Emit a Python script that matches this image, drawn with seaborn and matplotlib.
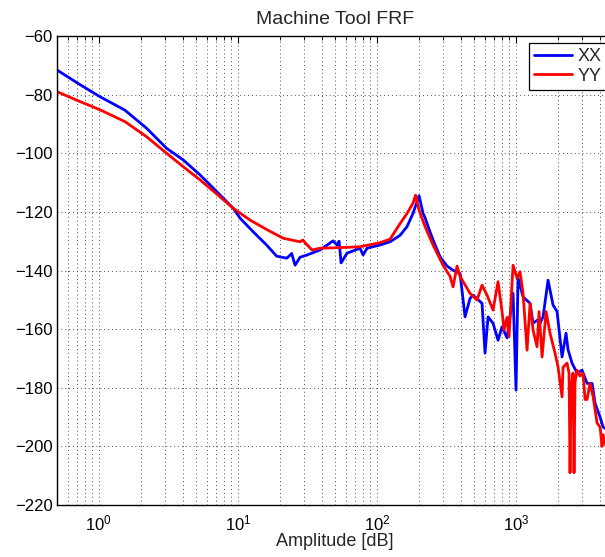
import numpy as np
import pandas as pd
import matplotlib
matplotlib.use("Agg")
import matplotlib.pyplot as plt
import seaborn as sns
from matplotlib.ticker import LogLocator, NullFormatter

# ---- data ----
xx_freq = [0.50, 0.71, 1.00, 1.54, 2.21, 3.07, 4.05, 5.35, 7.05, 9.28, 10.4, 12.9, 16.1, 19.0,
           22.5, 24.4, 25.8, 28.0, 31.5, 39.0, 48.4, 51.7, 53.5, 55.3, 61.0, 75.7, 79.6, 85.0,
           105.4, 124.5, 146.9, 165.0, 182.1, 201.2, 215.0, 222.3, 229.7, 253.7, 284.9,
           319.9, 353.4, 396.8, 431.1, 468.3, 492.2, 571.2, 600.3, 631.0, 685.5, 744.7,
           795.6, 864.5, 954.8, 1003, 1037, 1127, 1266, 1330, 1421, 1493, 1570, 1705, 1852,
           1979, 2150, 2297, 2374, 2537, 2756, 2994, 3253, 3534, 3714, 4036, 4241, 4457]
xx_db = [-71.6, -76.2, -80.5, -85.3, -91.5, -98.3, -102.3, -107.4, -113.1, -118.8, -122.2,
         -126.8, -131.3, -135.1, -135.8, -134.2, -138.2, -135.5, -134.7, -133.0, -129.9,
         -131.3, -130.0, -137.4, -134.1, -132.4, -134.7, -132.4, -131.3, -130.2, -128.0,
         -125.0, -120.5, -114.5, -120.5, -122.0, -124.0, -129.6, -135.3, -138.5, -139.9,
         -141.0, -155.8, -149.5, -148.4, -151.2, -168.2, -155.8, -158.0, -163.8, -159.2,
         -163.0, -147.8, -180.8, -142.6, -149.0, -151.2, -158.0, -157.0, -158.0, -155.8,
         -143.3, -151.8, -154.0, -169.5, -161.4, -167.0, -171.6, -175.0, -174.0, -178.5,
         -178.5, -185.3, -190.0, -193.4, -194.0]

yy_freq = [0.50, 0.71, 1.00, 1.54, 2.21, 3.07, 4.05, 5.35, 7.05, 9.28, 12.24, 16.1, 21.2,
           28.0, 29.4, 30.4, 34.2, 39.0, 53.5, 75.7, 105.4, 124.5, 146.9, 165.0, 182.1,
           190.0, 201.2, 222.3, 253.7, 299.5, 336.2, 353.4, 377.6, 396.8, 468.3, 526.0,
           571.2, 620.5, 685.5, 744.7, 795.6, 822.5, 864.5, 893.6, 954.8, 1020, 1072, 1127,
           1204, 1266, 1330, 1421, 1469, 1544, 1650, 1762, 1914, 2012, 2150, 2186, 2335,
           2414, 2454, 2495, 2579, 2622, 2666, 2756, 2896, 3044, 3148, 3253, 3419, 3594,
           3839, 4036, 4171, 4241, 4457]
yy_db = [-79.0, -82.1, -85.0, -89.2, -94.4, -100.0, -104.6, -109.1, -113.9, -118.8, -122.8,
         -126.0, -129.0, -130.2, -129.6, -130.5, -133.0, -132.4, -132.2, -131.9, -130.5,
         -129.3, -124.0, -120.5, -117.0, -114.3, -119.4, -125.0, -131.3, -138.2, -142.0,
         -145.6, -138.5, -142.0, -147.8, -150.1, -145.0, -148.4, -153.5, -143.8, -154.0,
         -160.3, -156.0, -162.6, -138.2, -142.6, -140.4, -147.8, -167.2, -151.2, -160.3,
         -166.0, -154.0, -169.5, -154.0, -161.4, -168.2, -172.9, -183.1, -173.0, -171.6,
         -175.0, -209.0, -180.0, -175.0, -209.0, -178.0, -174.0, -176.0, -175.0, -184.0,
         -184.0, -178.5, -183.0, -192.0, -193.4, -200.0, -196.0, -200.0]

series_names = ["XX", "YY"]
series_colors = ["#0000ff", "#ff0000"]
y_ticks = [-220, -200, -180, -160, -140, -120, -100, -80, -60]

df = pd.concat([
    pd.DataFrame({"freq": xx_freq, "db": xx_db, "series": series_names[0]}),
    pd.DataFrame({"freq": yy_freq, "db": yy_db, "series": series_names[1]}),
], ignore_index=True)

sns.set_style("white")
plt.rcParams["font.family"] = ["Liberation Sans", "DejaVu Sans"]
plt.rcParams["axes.unicode_minus"] = True

W, H = 605, 557
fig = plt.figure(figsize=(W / 100, H / 100), dpi=100)
L, R, T, B = 57, 613, 36, 505
ax = fig.add_axes([L / W, (H - B) / H, (R - L) / W, (B - T) / H])

sns.lineplot(data=df, x="freq", y="db", hue="series", palette=series_colors,
             hue_order=series_names, sort=False, estimator=None, lw=2.0, ax=ax)

ax.set_xscale("log")
ax.set_xlim(0.5, 5000)
ax.set_ylim(-220, -60)
ax.set_yticks(y_ticks)
ax.xaxis.set_major_locator(LogLocator(base=10, numticks=10))
ax.xaxis.set_minor_locator(LogLocator(base=10, subs=np.arange(2, 10), numticks=20))
ax.xaxis.set_minor_formatter(NullFormatter())

ax.grid(True, which="major", axis="both", linestyle=(0, (1, 3)), color="0.3", lw=0.7)
ax.grid(True, which="minor", axis="x", linestyle=(0, (1, 3)), color="0.3", lw=0.7)

for s in ax.spines.values():
    s.set_color("black")
    s.set_linewidth(1.0)
ax.tick_params(which="both", direction="in", top=True, right=True, colors="black",
               labelsize=12)
ax.tick_params(which="major", length=5, width=0.8)
ax.tick_params(which="minor", length=3, width=0.6)
ax.tick_params(axis="x", which="major", pad=6)
ax.tick_params(axis="y", which="major", pad=3)

ax.set_title("Machine Tool FRF", fontsize=14, pad=9)
ax.set_xlabel("Amplitude [dB]", fontsize=13, labelpad=0)
ax.set_ylabel("")

leg = ax.legend(loc="upper left", bbox_to_anchor=((529 - L) / (R - L), (B - 43) / (B - T)),
                fontsize=13, frameon=True, fancybox=False, framealpha=1, edgecolor="black",
                handlelength=2.1, handletextpad=0.3, borderpad=0.3, labelspacing=0.12,
                borderaxespad=0)
leg.get_frame().set_linewidth(0.9)
for ln in leg.get_lines():
    ln.set_linewidth(2.0)

fig.savefig("out.png", dpi=100)
